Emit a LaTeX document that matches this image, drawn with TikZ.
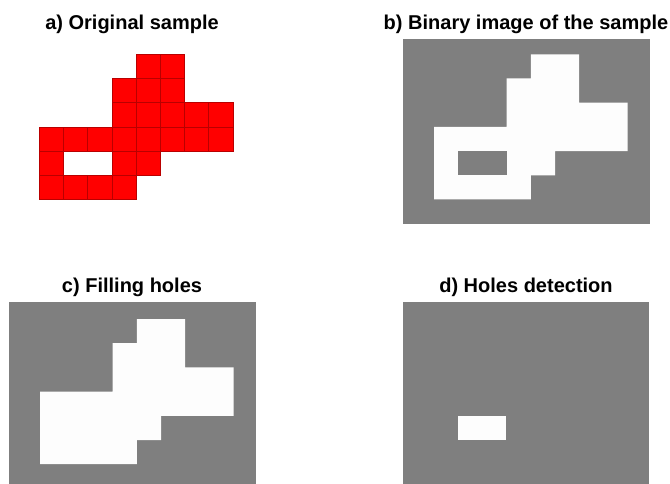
\documentclass[tikz,border=0pt]{standalone}
\usepackage{fontspec}
\setmainfont{Liberation Sans}
\definecolor{samplered}{RGB}{255,0,0}
\definecolor{gridred}{RGB}{185,0,0}
\definecolor{bggray}{RGB}{127,127,127}
\definecolor{fgwhite}{RGB}{253,253,253}
\begin{document}
\begin{tikzpicture}[
    x=1pt, y=-1pt,
    title/.style={anchor=base, inner sep=0pt, font=\bfseries\fontsize{20}{24}\selectfont},
    cell/.style={fill=samplered, draw=gridred, line width=0.6pt},
    backdrop/.style={fill=bggray},
    blob/.style={fill=fgwhite},
    grid cells/.style={shift={#1}, x=24.2pt, y=-24.2pt}
]
\useasboundingbox (0,0) rectangle (670,484);

% titles
\node[title] (titleA) at (132,30) {a) Original sample};
\node[title] (titleB) at (526,30) {b) Binary image of the sample};
\node[title] (titleC) at (132,292.5) {c) Filling holes};
\node[title] (titleD) at (526,292.5) {d) Holes detection};

% a) original sample
\begin{scope}[grid cells={(39.3,54.3)}]
  \foreach \c/\r in {4/0,5/0,3/1,4/1,5/1,3/2,4/2,5/2,6/2,7/2,
                     0/3,1/3,2/3,3/3,4/3,5/3,6/3,7/3,0/4,3/4,4/4,
                     0/5,1/5,2/5,3/5}
    \draw[cell] (\c,\r) rectangle ++(1,1);
\end{scope}

% b) binary image
\fill[backdrop] (403,39) rectangle (650,224);
\begin{scope}[grid cells={(434,54.3)}]
  \fill[blob] (4,0) -- (6,0) -- (6,2) -- (8,2) -- (8,4) -- (5,4) -- (5,5)
    -- (4,5) -- (4,6) -- (0,6) -- (0,3) -- (3,3) -- (3,1) -- (4,1) -- cycle;
  \fill[backdrop] (1,4) rectangle (3,5);
\end{scope}

% c) filling holes
\fill[backdrop] (9.3,302.3) rectangle (255.7,484);
\begin{scope}[grid cells={(40,319)}]
  \fill[blob] (4,0) -- (6,0) -- (6,2) -- (8,2) -- (8,4) -- (5,4) -- (5,5)
    -- (4,5) -- (4,6) -- (0,6) -- (0,3) -- (3,3) -- (3,1) -- (4,1) -- cycle;
\end{scope}

% d) holes detection
\fill[backdrop] (403.3,302.3) rectangle (649.3,484);
\begin{scope}[grid cells={(433.7,319)}]
  \fill[blob] (1,4) rectangle (3,5);
\end{scope}
\end{tikzpicture}
\end{document}
